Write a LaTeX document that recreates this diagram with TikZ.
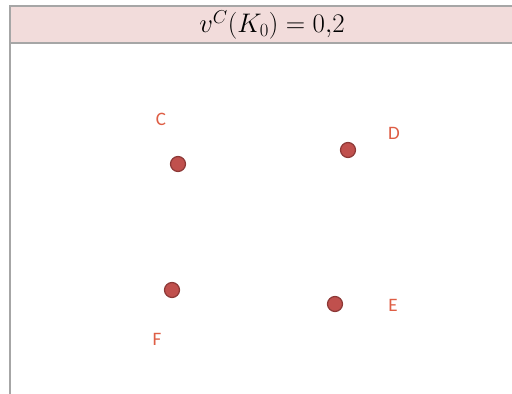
\documentclass[tikz,border=0pt]{standalone}
\usepackage{fontspec}
\setsansfont{Carlito}
\usepackage{tikz}
\usetikzlibrary{positioning}
\definecolor{Rule}{HTML}{A6A6A6}
\definecolor{Blush}{HTML}{F2DCDB}
\definecolor{Brick}{HTML}{C0504D}
\definecolor{DarkBrick}{HTML}{8C3836}
\definecolor{Rust}{HTML}{DE5E45}
\begin{document}
\begin{tikzpicture}[
  x=1pt,y=-1pt,
  every node/.style={inner sep=0pt},
  pt/.style={circle,fill=Brick,draw=DarkBrick,line width=1.2pt,minimum size=15pt},
  lbl/.style={font=\sffamily\fontsize{19}{19}\selectfont,text=Rust}
]
\useasboundingbox (0,0) rectangle (512,394);
\fill[Blush] (10,7) rectangle (512,42);
\draw[Rule,line width=2pt] (9,6) -- (512,6);
\draw[Rule,line width=2pt] (9,42.5) -- (512,42.5);
\draw[Rule,line width=2pt] (10,6) -- (10,394);
\node[scale=1.08] (title) at (272,25) {\fontsize{25}{25}\selectfont $v^C(K_0)=0{,}2$};
% points
\node[pt] (c) at (178,164) {};
\node[pt] (d) at (348,150) {};
\node[pt] (f) at (172,290) {};
\node[pt] (e) at (335,304) {};
% labels
\node[lbl] (lc) at (161,119) {C};
\node[lbl] (ld) at (394,133) {D};
\node[lbl] (le) at (393,305) {E};
\node[lbl] (lf) at (157,339) {F};
\end{tikzpicture}
\end{document}
